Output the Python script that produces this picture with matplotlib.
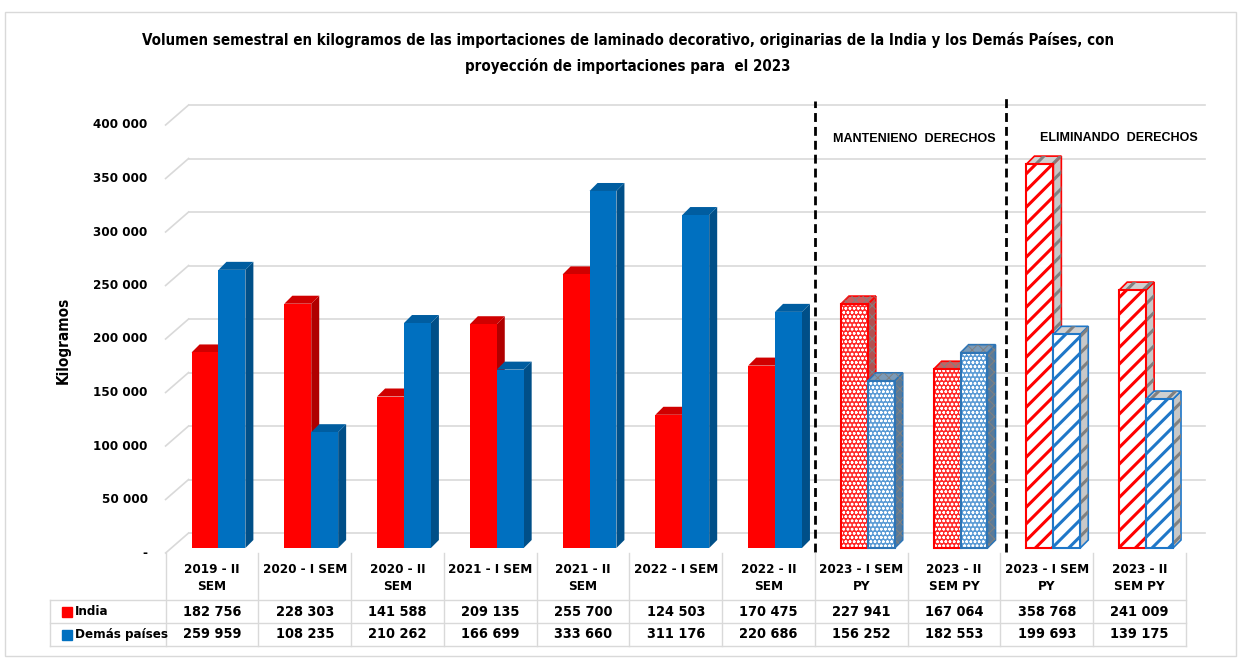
import numpy as np
import matplotlib.pyplot as plt
from matplotlib.patches import Rectangle, Polygon
from matplotlib.font_manager import fontManager, FontProperties

# data
categories = ['2019 - II\nSEM', '2020 - I SEM', '2020 - II\nSEM', '2021 - I SEM',
              '2021 - II\nSEM', '2022 - I SEM', '2022 - II\nSEM', '2023 - I SEM\nPY',
              '2023 - II\nSEM PY', '2023 - I SEM\nPY', '2023 - II\nSEM PY']
india = [182756, 228303, 141588, 209135, 255700, 124503, 170475, 227941, 167064, 358768, 241009]
demas = [259959, 108235, 210262, 166699, 333660, 311176, 220686, 156252, 182553, 199693, 139175]
styles = ['solid'] * 7 + ['dots'] * 2 + ['stripes'] * 2
series_names = ['India', 'Demás países']
yticks = [0, 50000, 100000, 150000, 200000, 250000, 300000, 350000, 400000]
ytick_labels = ['-', '50 000', '100 000', '150 000', '200 000', '250 000', '300 000', '350 000', '400 000']
section_titles = ['MANTENIENO  DERECHOS', 'ELIMINANDO  DERECHOS']
title_lines = ['Volumen semestral en kilogramos de las importaciones de laminado decorativo, '
               'originarias de la India y los Demás Países, con',
               'proyección de importaciones para  el 2023']

# a bold condensed face if one is installed, otherwise Liberation Sans bold
cond = None
for fam in ['Liberation Sans Narrow', 'Open Sans', 'Noto Sans', 'Roboto', 'DejaVu Sans']:
    for f in fontManager.ttflist:
        if (f.name == fam and f.style == 'normal' and f.weight in (700, 'bold')
                and f.stretch in ('condensed', 'semi-condensed')):
            cond = f.fname
            break
    if cond:
        break


def fp(size):
    if cond:
        return FontProperties(fname=cond, size=size)
    return FontProperties(family='Liberation Sans', weight='bold', size=size * 0.9)


W, H = 1238, 661
def fx(px):
    return px / W
def fy(py):
    return 1 - py / H

fig = plt.figure(figsize=(W / 100, H / 100), dpi=100)

# plot area: x from 165.6 to 1186 px, value 0 at 548 px and 400000 at 120 px
left, right, base, top = 165.6, 1186, 548, 120
ax = fig.add_axes([fx(left), fy(base), (right - left) / W, (base - top) / H])
ax.set_xlim(-0.5, 10.5)
ax.set_ylim(0, 400000)
ax.axis('off')

PX = 11 / (right - left)          # data x per pixel
PY = 400000 / (base - top)        # data y per pixel
x = np.arange(len(categories))

# back wall grid
grid_c = '#d9d9d9'
for v, lab in zip(yticks, ytick_labels):
    y_front = v - 5 * PY
    y_back = v + 15 * PY
    ax.plot([-0.5, -0.5 + 23 * PX], [y_front, y_back], color=grid_c, lw=1.2, clip_on=False, zorder=1)
    ax.plot([-0.5 + 23 * PX, 10.5 + 19 * PX], [y_back, y_back], color=grid_c, lw=1.2, clip_on=False, zorder=1)
    ax.text(-0.5 - 18 * PX, y_front, lab, ha='right', va='center', fontproperties=fp(9.6), clip_on=False)

dx, dy = 8 * PX, 8 * PY


def bar3d(x0, w, h, front, side, topc, hatch=None, hcolor=None, edge=None, hside=None):
    x1 = x0 + w
    side_pts = [(x1, 0), (x1, h), (x1 + dx, h + dy), (x1 + dx, dy)]
    top_pts = [(x0, h), (x1, h), (x1 + dx, h + dy), (x0 + dx, h + dy)]
    lw = 1.2 if edge else 0
    ax.add_patch(Polygon(side_pts, closed=True, facecolor=side, edgecolor=edge or side, lw=lw, clip_on=False, zorder=2))
    ax.add_patch(Polygon(top_pts, closed=True, facecolor=topc, edgecolor=edge or topc, lw=lw, clip_on=False, zorder=2))
    if hside:
        ax.add_patch(Polygon(side_pts, closed=True, fill=False, hatch=hside, edgecolor='#808080', lw=0, clip_on=False, zorder=2))
        ax.add_patch(Polygon(top_pts, closed=True, fill=False, hatch=hside, edgecolor='#808080', lw=0, clip_on=False, zorder=2))
    ax.add_patch(Rectangle((x0, 0), w, h, facecolor=front, edgecolor='none', clip_on=False, zorder=2))
    if hatch:
        ax.add_patch(Rectangle((x0, 0), w, h, fill=False, hatch=hatch, edgecolor=hcolor, lw=0, clip_on=False, zorder=2))
    if edge:
        ax.add_patch(Rectangle((x0, 0), w, h, fill=False, edgecolor=edge, lw=1.5, clip_on=False, zorder=2))


bw = 0.29
for i in x:
    st = styles[i]
    xr = i - 0.22
    xb = xr + bw
    if st == 'solid':
        bar3d(xr, bw, india[i], '#ff0000', '#b00000', '#d00000')
        bar3d(xb, bw, demas[i], '#0070c0', '#004f88', '#005da0')
    elif st == 'dots':
        with plt.rc_context({'hatch.linewidth': 0.7}):
            bar3d(xr, bw, india[i], '#ff2a2a', '#b05050', '#c86060', hatch='oooo', hcolor='white',
                  edge='#ff0000', hside='xxx')
            bar3d(xb, bw, demas[i], '#5b9bd5', '#5a7a98', '#7a9ab8', hatch='oooo', hcolor='white',
                  edge='#2e75b6', hside='xxx')
    else:
        with plt.rc_context({'hatch.linewidth': 2.2}):
            bar3d(xr, bw, india[i], 'white', '#c8c8c8', '#d0d0d0', hatch='//', hcolor='#ff0000',
                  edge='#ff0000', hside='//')
            bar3d(xb, bw, demas[i], 'white', '#c8c8c8', '#d0d0d0', hatch='//', hcolor='#1f77c8',
                  edge='#1f77c8', hside='//')

# section dividers
for xd, ytop in [(6.5, 418000), (8.56, 423000)]:
    ax.plot([xd, xd], [-4000, ytop], color='black', lw=2, ls=(0, (3.2, 1.8)), clip_on=False, zorder=3)
sec_fp = FontProperties(family='Liberation Sans', weight='bold', size=9)
ax.text(7.575, 382000, section_titles[0], ha='center', va='center', fontproperties=sec_fp, clip_on=False)
ax.text(9.78, 383000, section_titles[1], ha='center', va='center', fontproperties=sec_fp, clip_on=False)

# data table
tax = fig.add_axes([fx(left), fy(646), (right - left) / W, (646 - 555) / H])
tax.set_xlim(-0.5, 10.5)
tax.set_ylim(91, 0)
tax.axis('off')
xl = -0.5 - (left - 50) * PX
tc = '#d9d9d9'
for k in range(len(categories) + 1):
    tax.plot([k - 0.5, k - 0.5], [-2, 91], color=tc, lw=1, clip_on=False)
tax.plot([xl, xl], [45, 91], color=tc, lw=1, clip_on=False)
for yy in [45, 68, 91]:
    tax.plot([xl, 10.5], [yy, yy], color=tc, lw=1, clip_on=False)

for i, lab in enumerate(categories):
    tax.text(i, 8, lab, ha='center', va='top', fontproperties=fp(9.6), linespacing=1.35)
    tax.text(i, 56.5, f'{india[i]:,}'.replace(',', ' '), ha='center', va='center', fontproperties=fp(10.4))
    tax.text(i, 79.5, f'{demas[i]:,}'.replace(',', ' '), ha='center', va='center', fontproperties=fp(10.4))

for name, yy, col in [(series_names[0], 56.5, '#ff0000'), (series_names[1], 79.5, '#0070c0')]:
    tax.plot([xl + 17 * PX], [yy], marker='s', ms=6.5, color=col, clip_on=False)
    tax.text(xl + 25 * PX, yy, name, ha='left', va='center', fontproperties=fp(9.5))

# titles and axis label
title_fp = fp(10.8)
fig.text(fx(628), fy(40), title_lines[0], ha='center', va='center', fontproperties=title_fp)
fig.text(fx(628), fy(66), title_lines[1], ha='center', va='center', fontproperties=title_fp)
fig.text(fx(63), fy(340), 'Kilogramos', rotation=90, ha='center', va='center', fontproperties=fp(11))

fig.patches.append(Rectangle((fx(5), fy(656)), (1236 - 5) / W, (656 - 12) / H,
                             transform=fig.transFigure, fill=False, edgecolor='#d9d9d9', lw=1))

fig.savefig('out.png', dpi=100)
